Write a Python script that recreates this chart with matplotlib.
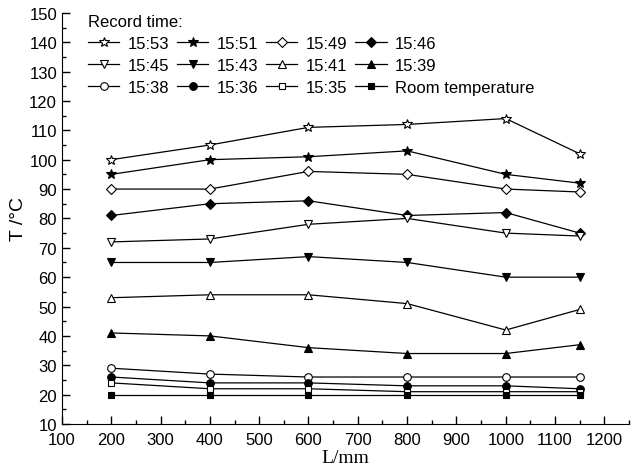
import matplotlib
matplotlib.use("Agg")
import matplotlib.pyplot as plt
from matplotlib.ticker import MultipleLocator

L = [200, 400, 600, 800, 1000, 1150]
labels = ["15:53", "15:51", "15:49", "15:46",
          "15:45", "15:43", "15:41", "15:39",
          "15:38", "15:36", "15:35", "Room temperature"]
t1553 = [100, 105, 111, 112, 114, 102]
t1551 = [95, 100, 101, 103, 95, 92]
t1549 = [90, 90, 96, 95, 90, 89]
t1546 = [81, 85, 86, 81, 82, 75]
t1545 = [72, 73, 78, 80, 75, 74]
t1543 = [65, 65, 67, 65, 60, 60]
t1541 = [53, 54, 54, 51, 42, 49]
t1539 = [41, 40, 36, 34, 34, 37]
t1538 = [29, 27, 26, 26, 26, 26]
t1536 = [26, 24, 24, 23, 23, 22]
t1535 = [24, 22, 22, 21, 21, 21]
room = [20, 20, 20, 20, 20, 20]
series = [t1553, t1551, t1549, t1546, t1545, t1543, t1541, t1539,
          t1538, t1536, t1535, room]
markers = ["*", "*", "D", "D", "v", "v", "^", "^", "o", "o", "s", "s"]
filled = [False, True, False, True, False, True, False, True, False, True, False, True]
sizes = [7.5, 7.5, 5.5, 5.5, 6, 6, 6, 6, 5.5, 5.5, 5, 5]

plt.rcParams['font.family'] = ['Liberation Sans', 'DejaVu Sans']
fig = plt.figure(figsize=(6.38, 4.77), dpi=100)
ax = fig.add_axes([0.097, 0.109, 0.889, 0.862])

handles = []
for y, m, f, s, lab in zip(series, markers, filled, sizes, labels):
    h, = ax.plot(L, y, color='black', lw=0.9, marker=m, markersize=s,
                 markerfacecolor='black' if f else 'white',
                 markeredgecolor='black', markeredgewidth=0.8, label=lab)
    handles.append(h)

ax.set_xlim(100, 1250)
ax.set_ylim(10, 150)
ax.xaxis.set_major_locator(MultipleLocator(100))
ax.xaxis.set_minor_locator(MultipleLocator(50))
ax.yaxis.set_major_locator(MultipleLocator(10))
ax.yaxis.set_minor_locator(MultipleLocator(5))
ax.spines['top'].set_visible(False)
ax.spines['right'].set_visible(False)
ax.tick_params(which='major', direction='in', length=6, width=1, labelsize=12)
ax.tick_params(axis='x', which='major', pad=6)
ax.tick_params(which='minor', direction='in', length=3, width=1)

ax.set_xlabel("L/mm", fontsize=14, family=['Liberation Serif'], labelpad=1)
ax.set_ylabel("T /°C", fontsize=14)
ax.yaxis.set_label_coords(-0.062, 0.5)

order = [0, 4, 8, 1, 5, 9, 2, 6, 10, 3, 7, 11]
leg = ax.legend([handles[i] for i in order], [labels[i] for i in order],
                ncol=4, loc='upper left', bbox_to_anchor=(0.025, 1.025),
                frameon=False, title="Record time:", fontsize=12,
                title_fontsize=12, handlelength=1.9, handletextpad=0.5,
                columnspacing=0.45, labelspacing=0.42, borderaxespad=0.3)
leg._legend_box.align = "left"

fig.savefig("out.png", dpi=100)
